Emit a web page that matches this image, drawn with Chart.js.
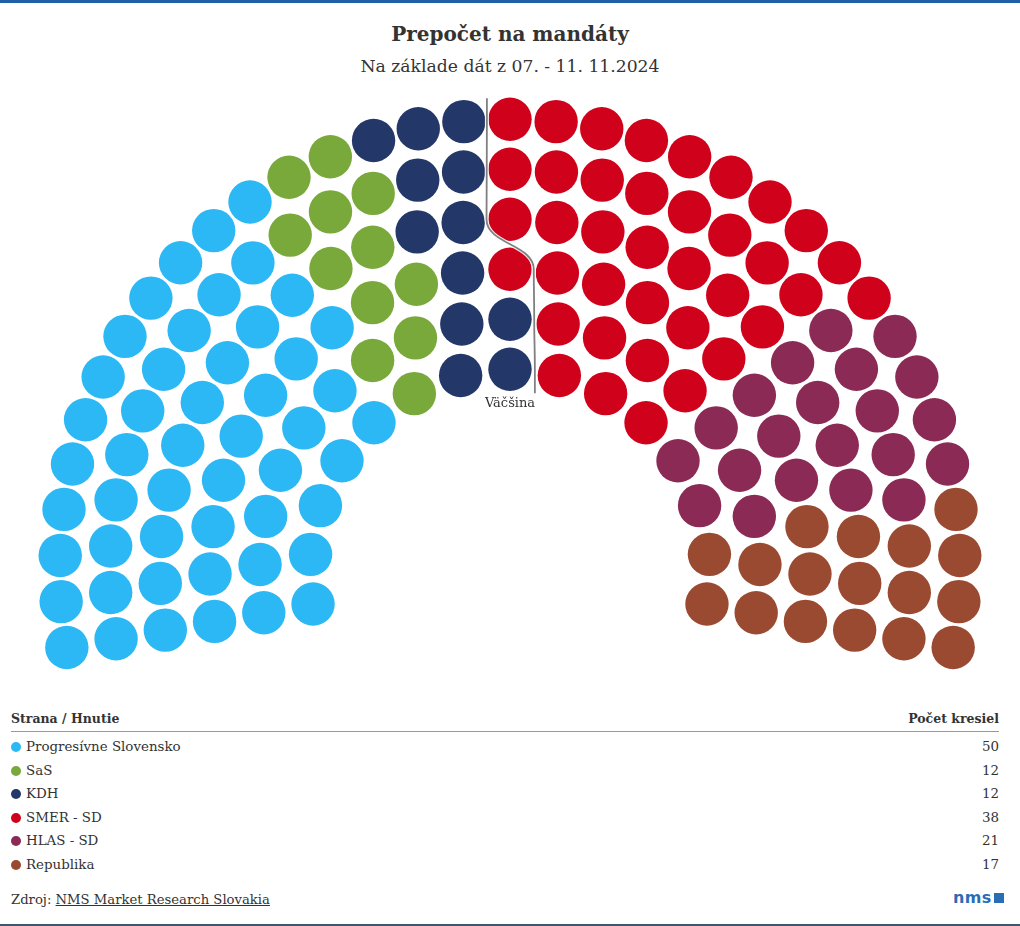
<!DOCTYPE html>
<html>
<head>
<meta charset="utf-8">
<script src="https://cdn.jsdelivr.net/npm/chart.js@4.4.1/dist/chart.umd.min.js"></script>
<style>
  html, body { margin:0; padding:0; background:#fff; }
  body { width:1020px; height:926px; position:relative; overflow:hidden; font-family:"DejaVu Serif", serif; color:#333; }
  #topbar { position:absolute; left:0; top:0; width:1020px; height:3px; background:#1e5fa6; }
  #botbar { position:absolute; left:0; top:924px; width:1020px; height:2px; background:#3d5671; }
  #title { position:absolute; left:0; width:1020px; top:22px; text-align:center; font-weight:bold; font-size:20px; color:#333; }
  #subtitle { position:absolute; left:0; width:1020px; top:56px; text-align:center; font-size:17.2px; color:#333; }
  #chartWrap { position:absolute; left:0; top:86px; width:1020px; height:604px; }
  .th { position:absolute; top:711px; font-weight:bold; font-size:12.5px; color:#333; }
  #hline { position:absolute; left:11px; top:731px; width:988px; height:1px; background:#9a9a9a; }
  .row { position:absolute; left:11px; width:988px; height:20px; font-size:13.4px; line-height:20px; color:#333; }
  .row .dot { position:absolute; left:0; top:5px; width:10px; height:10px; border-radius:50%; }
  .row .name { position:absolute; left:15px; top:0; }
  .row .val { position:absolute; right:0; top:0; }
  #source { position:absolute; left:11px; top:892px; font-size:13.2px; color:#333; }
  #source span { text-decoration:underline; }
  #logo { position:absolute; left:953px; top:888px; font-family:"DejaVu Sans", sans-serif; font-weight:bold; font-size:16px; color:#2a6db5; letter-spacing:0.3px; }
  #logo i { display:inline-block; width:10px; height:10px; background:#2a6db5; margin-left:2px; }
</style>
</head>
<body>
<div id="topbar"></div>
<div id="title">Prepočet na mandáty</div>
<div id="subtitle">Na základe dát z 07. - 11. 11.2024</div>
<div id="chartWrap"><canvas id="c"></canvas></div>
<div class="th" style="left:11px;">Strana / Hnutie</div>
<div class="th" style="right:21px;">Počet kresiel</div>
<div id="hline"></div>
<div id="rows"></div>
<div id="source">Zdroj: <span>NMS Market Research Slovakia</span></div>
<div id="logo">nms<i></i></div>
<div id="botbar"></div>
<script>
// ---- data ----
const parties = ["Progresívne Slovensko", "SaS", "KDH", "SMER - SD", "HLAS - SD", "Republika"];
const seats = [50, 12, 12, 38, 21, 17];
const colors = ["#2bb8f4", "#79a93a", "#233868", "#d0021b", "#8a2a55", "#9b4a32"];
const majorityLabel = "Väčšina";
const majorityLeftSeats = 75;

// ---- table ----
const rowsEl = document.getElementById('rows');
const rowTops = [737, 761, 784, 808, 831, 855];
parties.forEach((p, i) => {
  const d = document.createElement('div');
  d.className = 'row';
  d.style.top = rowTops[i] + 'px';
  d.innerHTML = '<div class="dot" style="background:' + colors[i] + '"></div><div class="name">' + p + '</div><div class="val">' + seats[i] + '</div>';
  rowsEl.appendChild(d);
});

// ---- parliament layout (computed from the seat totals) ----
const total = seats.reduce((a, b) => a + b, 0);
const nRings = 6, innerR = 200, ringGap = 50;
const startDeg = 190, spanDeg = 200;
const radii = [];
for (let i = 0; i < nRings; i++) radii.push(innerR + i * ringGap);
const rSum = radii.reduce((a, b) => a + b, 0);
const ringCounts = radii.map(r => Math.round(total * r / rSum));
let diff = total - ringCounts.reduce((a, b) => a + b, 0);
ringCounts[nRings - 1] += diff;

const allSeats = [];
radii.forEach((r, ri) => {
  const n = ringCounts[ri];
  for (let j = 0; j < n; j++) {
    const a = startDeg - j * spanDeg / (n - 1);
    allSeats.push({ ring: ri, j: j, r: r, a: a });
  }
});
allSeats.sort((p, q) => {
  const d = Math.round((q.a - p.a) * 1e6);
  if (d !== 0) return d;
  return p.r - q.r;
});
const partyOf = [];
seats.forEach((n, pi) => { for (let k = 0; k < n; k++) partyOf.push(pi); });
allSeats.forEach((s, idx) => { s.party = partyOf[idx]; s.order = idx; });

const datasets = parties.map((p, pi) => ({
  label: p,
  data: allSeats.filter(s => s.party === pi).map(s => ({
    x: s.r * Math.cos(s.a * Math.PI / 180),
    y: s.r * Math.sin(s.a * Math.PI / 180)
  })),
  backgroundColor: colors[pi],
  borderWidth: 0,
  pointRadius: 21.7,
  pointHoverRadius: 21.7,
  pointStyle: 'circle'
}));

// majority boundary per ring (midpoint angle between last-left and first-right seat)
const boundary = radii.map((r, ri) => {
  const ring = allSeats.filter(s => s.ring === ri);
  const left = ring.filter(s => s.order < majorityLeftSeats).sort((a, b) => a.a - b.a)[0];
  const right = ring.filter(s => s.order >= majorityLeftSeats).sort((a, b) => b.a - a.a)[0];
  const am = (left.a + right.a) / 2;
  return { r: r, x: r * Math.cos(am * Math.PI / 180) };
});

const majorityPlugin = {
  id: 'majority',
  afterDatasetsDraw(chart) {
    const ctx = chart.ctx, xs = chart.scales.x, ys = chart.scales.y;
    const P = (x, y) => [xs.getPixelForValue(x), ys.getPixelForValue(y)];
    const topR = radii[nRings - 1] + 21, botR = radii[0] - 24;
    const path = () => {
      ctx.beginPath();
      const last = boundary[nRings - 1];
      let p = P(last.x, topR);
      ctx.moveTo(p[0], p[1]);
      for (let i = nRings - 1; i >= 0; i--) {
        const b = boundary[i];
        p = P(b.x, b.r);
        ctx.lineTo(p[0], p[1]);
        if (i > 0) {
          const n = boundary[i - 1];
          const ym = (b.r + n.r) / 2;
          const c1 = P(b.x, ym), c2 = P(n.x, ym), e = P(n.x, n.r);
          ctx.bezierCurveTo(c1[0], c1[1], c2[0], c2[1], e[0], e[1]);
        }
      }
      p = P(boundary[0].x, botR);
      ctx.lineTo(p[0], p[1]);
    };
    ctx.save();
    ctx.lineJoin = 'round';
    path(); ctx.strokeStyle = 'rgba(255,255,255,0.9)'; ctx.lineWidth = 4; ctx.stroke();
    path(); ctx.strokeStyle = '#808080'; ctx.lineWidth = 1.8; ctx.stroke();
    const lp = P(0, botR);
    ctx.fillStyle = '#333';
    ctx.font = '13px "DejaVu Serif", serif';
    ctx.textAlign = 'center';
    ctx.textBaseline = 'top';
    ctx.fillText(majorityLabel, lp[0], lp[1] + 4);
    ctx.restore();
  }
};

// pixel-exact scales: 1 data unit = 1 px
const cx = 510, cyPage = 569.3, wrapTop = 86, wrapH = 604;
new Chart(document.getElementById('c'), {
  type: 'scatter',
  data: { datasets: datasets },
  options: {
    responsive: true,
    maintainAspectRatio: false,
    animation: false,
    events: [],
    layout: { padding: 0, autoPadding: false },
    clip: false,
    plugins: { legend: { display: false }, tooltip: { enabled: false } },
    scales: {
      x: { type: 'linear', display: false, min: -cx, max: 1020 - cx },
      y: { type: 'linear', display: false, min: cyPage - (wrapTop + wrapH), max: cyPage - wrapTop }
    }
  },
  plugins: [majorityPlugin]
});
</script>
</body>
</html>
